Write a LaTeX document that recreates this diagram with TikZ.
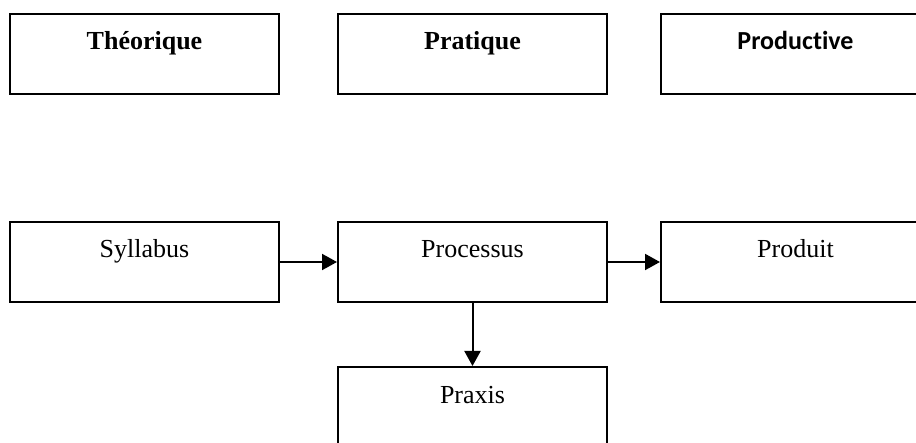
\documentclass[tikz,border=0pt]{standalone}
\usepackage{fontspec}
\setmainfont{Liberation Serif}
\newfontfamily\calfont[Ligatures=NoCommon]{Carlito}
\usetikzlibrary{arrows.meta}

\tikzset{
    box/.style={draw, line width=1pt, rectangle, minimum width=134.5pt,
        minimum height=40pt, inner sep=0pt, text height=10pt, text depth=14pt,
        font=\fontsize{13}{15}\selectfont},
    title/.style={box, font=\fontsize{13}{15}\selectfont\bfseries},
    flow/.style={-{Triangle[length=7.5pt,width=8pt]}, line width=1pt}
}

\begin{document}
\begin{tikzpicture}[x=0.5pt, y=-0.5pt]
    \useasboundingbox (0,0) rectangle (916,443);
    \clip (0,0) rectangle (916,443);

    % the three kinds
    \node[title] (theo) at (144.5,54) {Théorique};
    \node[title] (prat) at (472.5,54) {Pratique};
    \node[title, font=\fontsize{13}{15}\selectfont\calfont\bfseries] (prod) at (795.5,54) {Productive};

    % the chain
    \node[box] (syl) at (144.5,262) {Syllabus};
    \node[box] (proc) at (472.5,262) {Processus};
    \node[box] (prodt) at (795.5,262) {Produit};
    \node[box] (prax) at (472.5,407) {Praxis};

    \draw[flow] (syl) -- (proc);
    \draw[flow] (proc) -- (prodt);
    \draw[flow] (proc) -- (prax);
\end{tikzpicture}
\end{document}
